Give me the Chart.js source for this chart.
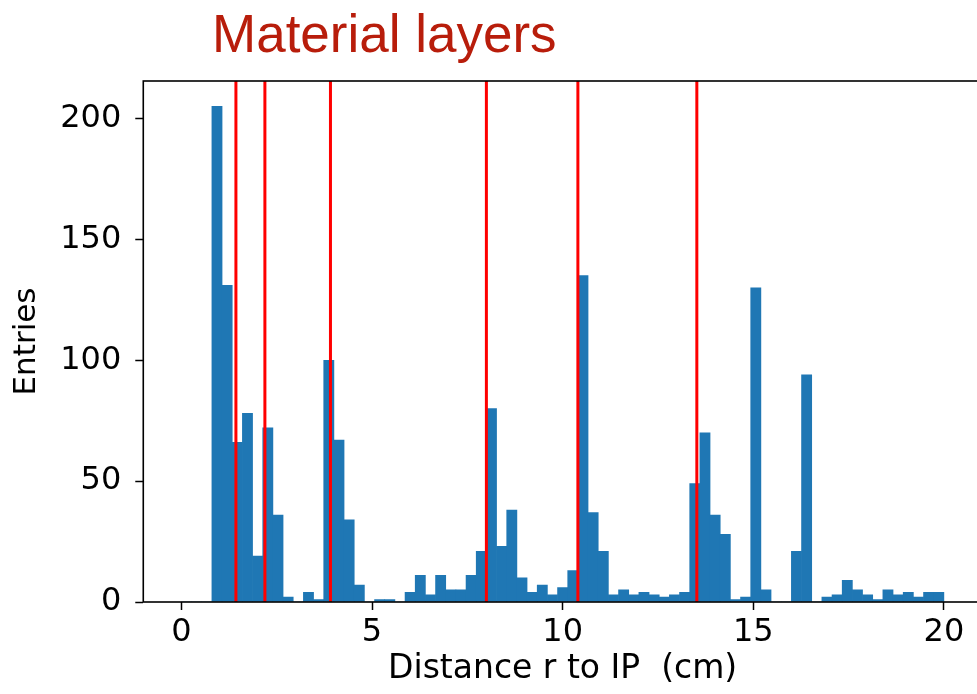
<!DOCTYPE html>
<html>
<head>
<meta charset="utf-8">
<script src="https://cdn.jsdelivr.net/npm/chart.js@4.4.1/dist/chart.umd.min.js"></script>
<style>
  html, body { margin: 0; padding: 0; background: #fff; overflow: hidden; }
  #wrap { width: 1000px; height: 694px; }
</style>
</head>
<body>
<div id="wrap"><canvas id="hist" width="1000" height="694"></canvas></div>
<script>
// histogram binning: 75 bins over 0..20 cm
const binLow = 0;
const binHigh = 20;
const binCount = 75;

// entries per bin
const entries = [
  0, 0, 0, 205, 131, 66, 78, 19, 72, 36,
  2, 0, 4, 1, 100, 67, 34, 7, 0, 1,
  1, 0, 4, 11, 3, 11, 5, 5, 11, 21,
  80, 23, 38, 10, 4, 7, 3, 6, 13, 135,
  37, 21, 3, 5, 3, 4, 3, 2, 3, 4,
  49, 70, 36, 28, 1, 2, 130, 5, 0, 0,
  21, 94, 0, 2, 3, 9, 5, 3, 1, 5,
  3, 4, 2, 4, 4
];

// radii of the material layers (cm)
const layers = [1.43, 2.19, 3.91, 8.0, 10.4, 13.52];

const xTicks = [0, 5, 10, 15, 20];
const yTicks = [0, 50, 100, 150, 200];

const binWidth = (binHigh - binLow) / binCount;
const points = entries.map((n, i) => ({ x: binLow + (i + 0.5) * binWidth, y: n }));

const frameAndLayers = {
  id: 'frameAndLayers',
  afterDatasetsDraw(chart) {
    const ctx = chart.ctx;
    const area = chart.chartArea;
    const xs = chart.scales.x;
    ctx.save();
    ctx.strokeStyle = '#ff0000';
    ctx.lineWidth = 3;
    layers.forEach(r => {
      const px = xs.getPixelForValue(r);
      ctx.beginPath();
      ctx.moveTo(px, area.top);
      ctx.lineTo(px, area.bottom);
      ctx.stroke();
    });
    ctx.strokeStyle = '#000';
    ctx.lineWidth = 1.6;
    ctx.strokeRect(area.left, area.top, area.right - area.left, area.bottom - area.top);
    ctx.restore();
  },
  afterDraw(chart) {
    const ctx = chart.ctx;
    ctx.save();
    ctx.fillStyle = '#b81d0b';
    ctx.font = '53px "Liberation Sans", Arial, sans-serif';
    ctx.textAlign = 'left';
    ctx.textBaseline = 'alphabetic';
    ctx.fillText('Material layers', 212, 52);
    ctx.restore();
  }
};

const tickFont = { family: 'DejaVu Sans', size: 32, lineHeight: 1.0 };

new Chart(document.getElementById('hist'), {
  type: 'bar',
  data: {
    datasets: [{
      data: points,
      backgroundColor: '#1f77b4',
      borderWidth: 0,
      barPercentage: 1,
      categoryPercentage: 1
    }]
  },
  options: {
    responsive: false,
    animation: false,
    layout: { padding: { top: 81, left: 3, right: 18, bottom: 8 } },
    plugins: { legend: { display: false }, tooltip: { enabled: false } },
    scales: {
      x: {
        type: 'linear',
        min: -1,
        max: 21,
        offset: false,
        afterBuildTicks: axis => { axis.ticks = xTicks.map(v => ({ value: v })); },
        ticks: { font: tickFont, color: '#000', padding: 7, maxRotation: 0 },
        grid: { offset: false, drawOnChartArea: false, color: '#000', tickLength: 8, tickWidth: 1.5 },
        border: { display: false },
        title: {
          display: true,
          text: 'Distance r to IP  (cm)',
          color: '#000',
          font: { family: 'DejaVu Sans', size: 33, lineHeight: 1.0 },
          padding: { top: -3, bottom: 0 }
        }
      },
      y: {
        min: 0,
        max: 215.5,
        afterBuildTicks: axis => { axis.ticks = yTicks.map(v => ({ value: v })); },
        ticks: { font: tickFont, color: '#000', padding: 14 },
        grid: { drawOnChartArea: false, color: '#000', tickLength: 8, tickWidth: 1.5 },
        border: { display: false },
        title: {
          display: true,
          text: 'Entries',
          color: '#000',
          font: { family: 'DejaVu Sans', size: 31, lineHeight: 1.2 },
          padding: { top: 5, bottom: 1 }
        }
      }
    }
  },
  plugins: [frameAndLayers]
});
</script>
</body>
</html>
